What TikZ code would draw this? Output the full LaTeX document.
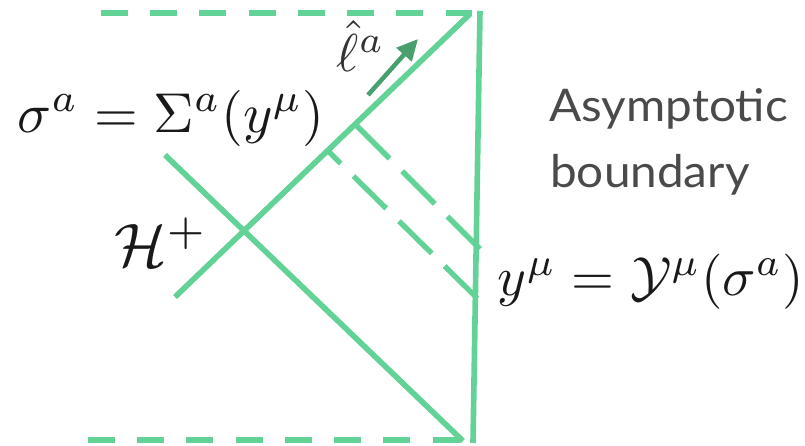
\documentclass[tikz,border=0pt]{standalone}
\usepackage{fontspec}
\usepackage{amsmath}
\usetikzlibrary{arrows.meta}
\newfontfamily\labelfont[FakeStretch=1.06]{Lato}
\definecolor{lgreen}{RGB}{99,210,150}
\definecolor{dgreen}{RGB}{72,160,110}
\definecolor{txtgray}{RGB}{74,74,74}
\begin{document}
\begin{tikzpicture}[x=0.025cm,y=-0.025cm,
  wall/.style={draw=lgreen,line width=4pt},
  edgedash/.style={wall,dash pattern=on 19.2pt off 15.8pt},
  raydash/.style={draw=lgreen,line width=3.8pt,dash pattern=on 32.7pt off 12.8pt},
  vec/.style={draw=dgreen,line width=3.2pt,-{Triangle[length=15pt,width=14pt]}},
  mathlabel/.style={inner sep=0pt,text=black!90},
  boundlabel/.style={inner sep=0pt,anchor=base west,text=txtgray,font=\labelfont\fontsize{32}{38}\selectfont}]
\useasboundingbox (0,0) rectangle (805,446);
% corners
\coordinate (TL) at (101,13);
\coordinate (TR) at (472,13);
\coordinate (BL) at (88,440);
\coordinate (BR) at (462,440);
\coordinate (VT) at (480,11);
\coordinate (VB) at (473,443);
\coordinate (HB) at (175,297);
\coordinate (HT) at (470,14);
\coordinate (DA) at (165,155);
\coordinate (DB) at (463,441);
\coordinate (U1) at (357,126);
\coordinate (U2) at (481,250);
\coordinate (L1) at (328,151);
\coordinate (L2) at (482,303);
\coordinate (A1) at (368,95);
\coordinate (A2) at (418,39);
% lines
\draw[edgedash] (TL) -- (TR);
\draw[edgedash] (BL) -- (BR);
\draw[wall] (VT) -- (VB);
\draw[wall] (HB) -- (HT);
\draw[wall] (DA) -- (DB);
\draw[raydash] (U1) -- (U2);
\draw[raydash,dash phase=20pt] (L1) -- (L2);
\draw[vec] (A1) -- (A2);
% labels
\node[mathlabel] (sig) at (171,118) {\resizebox{7.675cm}{!}{$\sigma^a=\Sigma^a(y^\mu)$}};
\node[mathlabel] (ymu) at (651,282) {\resizebox{7.65cm}{!}{$y^\mu=\mathcal{Y}^\mu(\sigma^a)$}};
\node[mathlabel] (hor) at (161,242) {\resizebox{2.33cm}{!}{$\mathcal{H}^+$}};
\node[mathlabel,text=black!80] (ell) at (361,46) {\resizebox{1.2cm}{!}{$\hat{\ell}^a$}};
\node[boundlabel] (asy) at (549,121.5) {Asymptotic};
\node[boundlabel] (bnd) at (550,188) {boundary};
\end{tikzpicture}
\end{document}
